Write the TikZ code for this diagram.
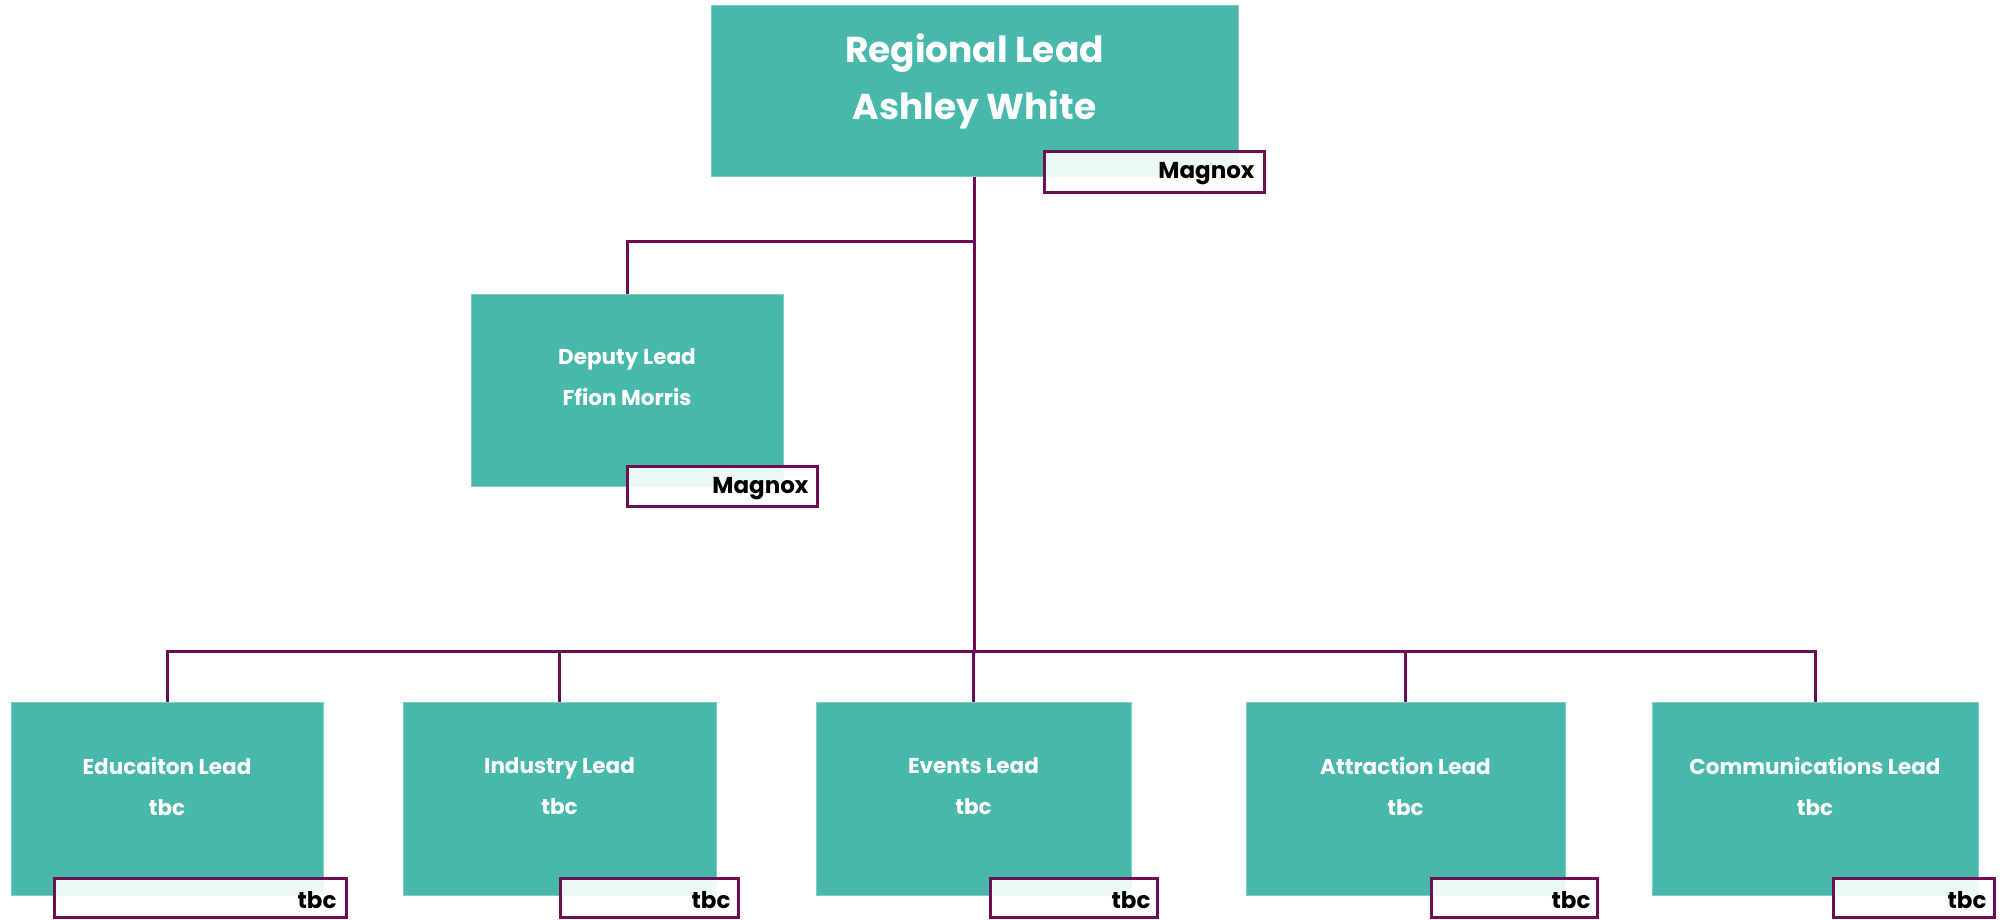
\documentclass[tikz,border=0pt]{standalone}
\usepackage{fontspec}
\setmainfont{Poppins}
\usepackage{tikz}

\definecolor{leadteal}{RGB}{71,184,169}
\definecolor{linkplum}{RGB}{110,15,84}

\begin{document}
\begin{tikzpicture}[x=1pt,y=-1pt,
    lead/.style={fill=leadteal, draw=leadteal!70!white, line width=1pt, inner sep=0pt},
    leadtext/.style={text=white, font=\bfseries\fontsize{21.5}{41}\selectfont, align=center},
    tag/.style={draw=linkplum, line width=3pt, fill=white, fill opacity=0.9, text opacity=1,
        inner sep=0pt, minimum height=39pt},
    org/.style={anchor=east, text=black, font=\bfseries\fontsize{23}{26}\selectfont},
    wire/.style={draw=linkplum, line width=3pt}]
  \useasboundingbox (0,0) rectangle (2002,919);

  % top of the tree
  \node[lead, minimum width=527pt, minimum height=171pt] (regional) at (974.5,90.5) {};
  \node[leadtext, font=\bfseries\fontsize{36}{57}\selectfont] (regionaltext) at (974.5,81) {Regional Lead\\Ashley White};
  \node[tag, minimum width=220pt, minimum height=41pt] (regionaltag) at (1154,171.5) {};
  \node[org] (regionalorg) at (1258,174) {Magnox};

  % deputy
  \node[lead, minimum width=312pt, minimum height=192pt] (deputy) at (627,390) {};
  \node[leadtext] (deputytext) at (627,377) {Deputy Lead\\Ffion Morris};
  \node[tag, minimum width=190pt, minimum height=40pt] (deputytag) at (722,486) {};
  \node[org] (deputyorg) at (812,489) {Magnox};

  % leads
  \node[lead, minimum width=312pt, minimum height=193pt] (education) at (167,798.5) {};
  \node[lead, minimum width=313pt, minimum height=193pt] (industry) at (559.5,798.5) {};
  \node[lead, minimum width=315pt, minimum height=193pt] (events) at (973.5,798.5) {};
  \node[lead, minimum width=319pt, minimum height=193pt] (attraction) at (1405.5,798.5) {};
  \node[lead, minimum width=326pt, minimum height=193pt] (comms) at (1815,798.5) {};

  \node[leadtext] (educationtext) at (167,786.5) {Educaiton Lead\\tbc};
  \node[leadtext] (industrytext) at (559.5,786.5) {Industry Lead\\tbc};
  \node[leadtext] (eventstext) at (973.5,786.5) {Events Lead\\tbc};
  \node[leadtext] (attractiontext) at (1405.5,786.5) {Attraction Lead\\tbc};
  \node[leadtext] (commstext) at (1815,786.5) {Communications Lead\\tbc};

  \node[tag, minimum width=292pt] (educationtag) at (200,897.5) {};
  \node[tag, minimum width=178pt] (industrytag) at (649,897.5) {};
  \node[tag, minimum width=167pt] (eventstag) at (1073.5,897.5) {};
  \node[tag, minimum width=166pt] (attractiontag) at (1514,897.5) {};
  \node[tag, minimum width=161pt] (commstag) at (1913.5,897.5) {};

  \node[org] (educationorg) at (340,900.5) {tbc};
  \node[org] (industryorg) at (734,900.5) {tbc};
  \node[org] (eventsorg) at (1154,900.5) {tbc};
  \node[org] (attractionorg) at (1594,900.5) {tbc};
  \node[org] (commsorg) at (1990,900.5) {tbc};

  % connectors
  \coordinate (deputyfork) at (974.5,241);
  \coordinate (hub) at (974.5,651);
  \draw[wire] (regional.south) -- (hub);
  \draw[wire] (deputyfork) -| (deputy.north);
  \foreach \who in {education,industry,events,attraction,comms}
    \draw[wire] (hub) -| (\who.north);
\end{tikzpicture}
\end{document}
